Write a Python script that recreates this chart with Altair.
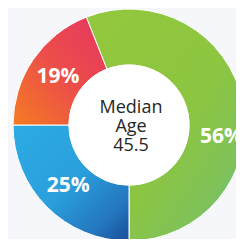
import math
import altair as alt
import pandas as pd

# ---- data ----
segments = ["56%", "25%", "19%"]
shares = [56, 25, 19]
order = [1, 2, 3]
center_lines = ["Median", "Age", "45.5"]

df = pd.DataFrame({"segment": segments, "share": shares, "order": order})

W, H = 228, 231
CX, CY = 121, 117
R_OUT, R_IN = 116, 60
START = -21.6 * math.pi / 180
theta_scale = alt.Scale(domain=[0, 100], range=[START, START + 2 * math.pi])


def grad(x1, y1, x2, y2, stops):
    return alt.LinearGradient(
        gradient="linear", x1=x1, y1=y1, x2=x2, y2=y2,
        stops=[alt.GradientStop(offset=o, color=c) for o, c in stops],
    )


fills = {
    "56%": grad(0, 0, 1, 1, [(0, "#93c83c"), (0.55, "#8cc541"), (0.8, "#7fc25a"), (1, "#3fb2cf")]),
    "25%": grad(0, 0, 1, 1, [(0, "#2cabe3"), (0.5, "#2a9fdc"), (0.8, "#2478c0"), (1, "#1b4d98")]),
    "19%": grad(1, 0, 0, 1, [(0, "#e63760"), (0.5, "#ec4d4a"), (1, "#f47c22")]),
}

base = alt.Chart(df).transform_stack(
    stack="share", groupby=[], as_=["start", "end"], sort=[alt.SortField("order")]
).transform_calculate(mid="(datum.start + datum.end) / 2")


def arc(seg):
    return base.transform_filter(alt.datum.segment == seg).mark_arc(
        outerRadius=R_OUT, innerRadius=R_IN, fill=fills[seg],
        stroke="#ffffff", strokeWidth=1,
    ).encode(
        theta=alt.Theta("start:Q", scale=theta_scale, stack=None),
        theta2="end:Q",
        x=alt.value(CX), y=alt.value(CY),
    )


hole = alt.Chart(pd.DataFrame({"k": [0]})).mark_circle(
    color="#ffffff", opacity=1
).encode(x=alt.value(CX), y=alt.value(CY), size=alt.value((2 * R_IN + 1) ** 2))

label_style = dict(radius=86, font="Open Sans", fontWeight="bold", fontSize=21,
                   color="#ffffff", align="center", baseline="middle")

labels_rb = base.transform_filter(alt.datum.segment != "56%").mark_text(**label_style).encode(
    theta=alt.Theta("mid:Q", scale=theta_scale, stack=None),
    text="segment:N", x=alt.value(CX), y=alt.value(CY),
)
labels_g = base.transform_filter(alt.datum.segment == "56%").mark_text(dx=8, dy=28, **label_style).encode(
    theta=alt.Theta("mid:Q", scale=theta_scale, stack=None),
    text="segment:N", x=alt.value(CX), y=alt.value(CY),
)

center = alt.Chart(pd.DataFrame({"k": [0]})).mark_text(
    text=center_lines, font="Open Sans", fontSize=18, lineHeight=19,
    color="#262626", align="center", baseline="middle",
).encode(x=alt.value(CX + 2), y=alt.value(CY - 17))

chart = alt.layer(
    arc("56%"), arc("25%"), arc("19%"), hole, labels_rb, labels_g, center
).properties(
    width=W, height=H, padding=0, autosize="none", background="#f6f7fb"
).configure_view(stroke=None)

chart.save("out.html", embed_options={"renderer": "svg", "actions": False})
